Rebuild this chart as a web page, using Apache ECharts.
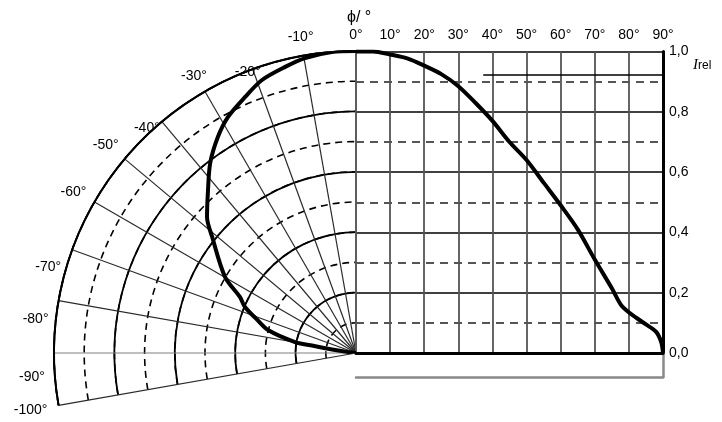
<!DOCTYPE html>
<html><head><meta charset="utf-8">
<script src="https://cdn.jsdelivr.net/npm/echarts@6/dist/echarts.min.js"></script>
<style>html,body{margin:0;padding:0;background:#fff}#c{width:722px;height:422px}</style>
</head><body><div id="c"></div>
<script>
// ---- data ----
const xTickValues = [0, 10, 20, 30, 40, 50, 60, 70, 80, 90];
const polarTickValues = [-100, -90, -80, -70, -60, -50, -40, -30, -20, -10, 0];
const polarLabelTicks = [-100, -90, -80, -70, -60, -50, -40, -30, -20, -10];
const polarCurveAngle = [0, -4.6, -9.8, -13.9, -19.0, -23.4, -28.5, -32.6, -37.5, -42.8, -47.6, -51.1, -59.9, -64.2, -67.5, -71.0, -75.4, -79.8, -80.5, -81.5, -83, -85];
const polarCurveR     = [1.0, 1.0, 0.991, 0.976, 0.956, 0.924, 0.889, 0.849, 0.793, 0.722, 0.668, 0.612, 0.501, 0.427, 0.398, 0.35, 0.301, 0.205, 0.14, 0.08, 0.03, 0];
const cartAngle = [0, 5, 10, 15, 20, 25, 30, 35, 40, 45, 50, 55, 60, 65, 70, 75, 78, 82, 85, 88, 89.5, 90];
const cartI     = [1.0, 1.0, 0.99, 0.977, 0.953, 0.925, 0.885, 0.83, 0.77, 0.70, 0.64, 0.565, 0.49, 0.41, 0.31, 0.215, 0.155, 0.118, 0.095, 0.07, 0.035, 0.0];
const refLineX = [37.3, 90];
const refLineY = [0.922, 0.922];

// ---- styling ----
const FONT = 'Liberation Sans';
// pixel offsets of the angle labels (style only), same order as polarLabelTicks
const polarLabelOffsets = [[-28, 5], [-22, 24], [-23, 19], [-24, 17], [-21, -10], [-19, -14], [-15, 6], [-11, -15], [-5, 3], [-3, -18]];

const chart = echarts.init(document.getElementById('c'), null, {renderer: 'canvas'});
const splitColors = polarTickValues.map(v => (v === -90 || v === 0) ? '#808080' : '#2a2a2a');

const option = {
  animation: false,
  title: {text: 'ϕ/ °', left: 342, top: 5, textStyle: {fontFamily: FONT, fontSize: 16, fontWeight: 'normal', color: '#000'}},
  polar: [
    {center: [356, 353], radius: 302},
    {center: [356, 353], radius: 302}
  ],
  angleAxis: [
    {polarIndex: 0, type: 'value', min: -100, max: 0, interval: 10,
     startAngle: 190, endAngle: 90, clockwise: true,
     axisLine: {show: false}, axisTick: {show: false}, axisLabel: {show: false}, splitLine: {show: false}},
    {polarIndex: 1, type: 'value', min: -100, max: 0, interval: 10,
     startAngle: 190, endAngle: 90, clockwise: true,
     axisLine: {show: true, lineStyle: {color: '#000', width: 2}},
     axisTick: {show: false}, axisLabel: {show: false},
     splitLine: {show: true, lineStyle: {color: splitColors, width: 1.2}}}
  ],
  radiusAxis: [
    {polarIndex: 0, type: 'value', min: 0, max: 1, interval: 0.1,
     axisLine: {show: false}, axisTick: {show: false}, axisLabel: {show: false},
     splitLine: {show: true, lineStyle: {color: '#000', width: 1.6, type: [7, 5]}}},
    {polarIndex: 1, type: 'value', min: 0, max: 1, interval: 0.2,
     axisLine: {show: false}, axisTick: {show: false}, axisLabel: {show: false},
     splitLine: {show: true, lineStyle: {color: '#000', width: 1.8}}}
  ],
  grid: [
    {left: 356, right: 59, top: 51.5, bottom: 69},
    {left: 356, right: 59, top: 353, bottom: 45}
  ],
  xAxis: [
    {gridIndex: 0, type: 'value', position: 'top', min: 0, max: 90, interval: 10,
     axisLine: {show: false, onZero: false}, axisTick: {show: false},
     axisLabel: {margin: 9, formatter: v => v + '°', fontFamily: FONT, fontSize: 14, color: '#000'},
     splitLine: {show: true, lineStyle: {color: '#555', width: 1.8}}},
    {gridIndex: 0, type: 'value', position: 'bottom', min: 0, max: 90,
     axisLine: {show: true, onZero: false, lineStyle: {color: '#000', width: 3}},
     axisTick: {show: false}, axisLabel: {show: false}, splitLine: {show: false}},
    {gridIndex: 1, type: 'value', position: 'bottom', min: 0, max: 90,
     axisLine: {show: true, onZero: false, lineStyle: {color: '#888', width: 2.5}},
     axisTick: {show: false}, axisLabel: {show: false}, splitLine: {show: false}}
  ],
  yAxis: [
    {gridIndex: 0, type: 'value', position: 'right', min: 0, max: 1, interval: 0.2,
     name: '{i|I}{s|rel}', nameLocation: 'end', nameGap: -14,
     nameTextStyle: {align: 'left', verticalAlign: 'middle', padding: [0, 0, 0, 30],
       rich: {i: {fontFamily: 'Liberation Serif', fontStyle: 'italic', fontSize: 15, color: '#000'},
              s: {fontFamily: FONT, fontSize: 12, color: '#000'}}},
     axisLine: {show: true, onZero: false, lineStyle: {color: '#000', width: 3}},
     axisTick: {show: false},
     axisLabel: {margin: 6, formatter: v => v.toFixed(1).replace('.', ','), fontFamily: FONT, fontSize: 14, color: '#000'},
     splitLine: {show: true, lineStyle: {color: '#000', width: 1.5}},
     minorTick: {show: false, splitNumber: 2},
     minorSplitLine: {show: true, lineStyle: {color: '#555', width: 1.8, type: [8, 6]}}},
    {gridIndex: 1, type: 'value', position: 'right', min: 0, max: 1,
     axisLine: {show: true, onZero: false, lineStyle: {color: '#888', width: 2.5}},
     axisTick: {show: false}, axisLabel: {show: false}, splitLine: {show: false}}
  ],
  series: [
    {type: 'line', coordinateSystem: 'polar', polarIndex: 1, symbol: 'none', smooth: 0.3,
     lineStyle: {color: '#000', width: 4},
     data: polarCurveR.map((r, i) => [r, polarCurveAngle[i]]), z: 10},
    {type: 'scatter', coordinateSystem: 'polar', polarIndex: 1, symbolSize: 0, silent: true,
     itemStyle: {color: '#000', opacity: 1},
     label: {show: true, position: 'inside', formatter: p => p.value[1] + '°', fontFamily: FONT, fontSize: 14,
             color: '#000', textBorderWidth: 0, opacity: 1},
     data: polarLabelTicks.map((v, i) => ({value: [1, v], label: {offset: polarLabelOffsets[i]}})), z: 12},
    {type: 'line', xAxisIndex: 0, yAxisIndex: 0, symbol: 'none', smooth: 0.3,
     lineStyle: {color: '#000', width: 4},
     data: cartAngle.map((a, i) => [a, cartI[i]]), z: 10},
    {type: 'line', xAxisIndex: 0, yAxisIndex: 0, symbol: 'none',
     lineStyle: {color: '#000', width: 1.5},
     data: refLineX.map((x, i) => [x, refLineY[i]]), z: 5}
  ]
};
chart.setOption(option);
</script></body></html>
